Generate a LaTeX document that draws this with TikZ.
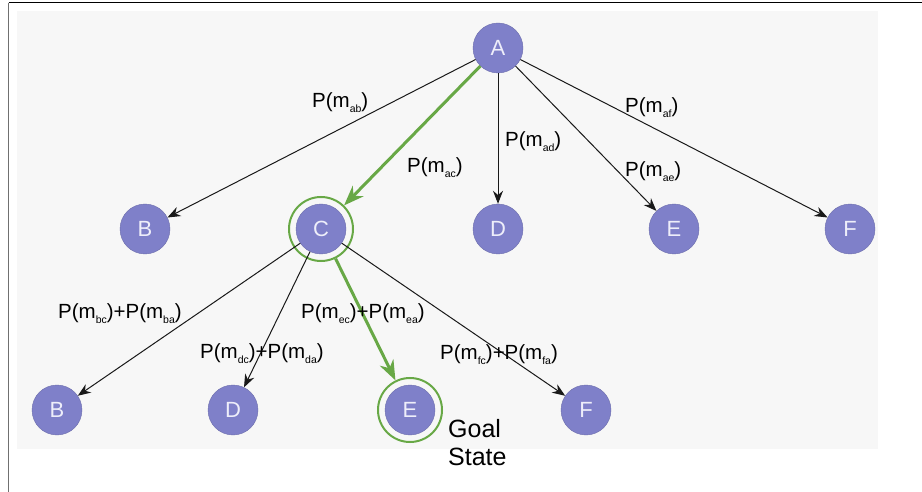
\documentclass[tikz,border=0pt]{standalone}
\usepackage{fontspec}
\setmainfont{Liberation Sans}
\usetikzlibrary{arrows.meta}
\definecolor{nodefill}{HTML}{7F80C9}
\definecolor{nodetext}{HTML}{EEEEFA}
\definecolor{goalgreen}{HTML}{68A846}
\definecolor{bggray}{HTML}{F7F7F7}
\definecolor{framegray}{HTML}{707070}
\newcommand{\sbs}[1]{\raisebox{-5pt}{\fontsize{10.5}{12}\selectfont #1}}
\newcommand{\pmsg}[1]{P(m\sbs{#1})}
\begin{document}
\begin{tikzpicture}[x=1pt,y=-1pt,
  stnode/.style={circle, fill=nodefill, draw=nodefill!85!black, line width=0.4pt,
    minimum size=50pt, inner sep=0pt, text=nodetext, font=\fontsize{22}{26}\selectfont},
  ring/.style={circle, draw=goalgreen, line width=2pt, minimum size=64pt, inner sep=0pt},
  plainedge/.style={draw=black!90, line width=1pt, -{Stealth[length=13pt,width=10pt]}},
  bestedge/.style={draw=goalgreen, line width=3pt, -{Stealth[length=20pt,width=15pt]}},
  lbl/.style={anchor=base west, inner sep=0pt, font=\fontsize{20.5}{24}\selectfont}]
\useasboundingbox (0,0) rectangle (922,492);
% frame and background
\fill[bggray] (17,11) rectangle (878,449);
\draw[black, line width=1pt] (8.5,3) -- (922,3);
\draw[framegray, line width=1.5pt] (8.5,3) -- (8.5,492);
% nodes
\node[stnode] (A) at (498,48) {A};
\node[stnode] (B1) at (145,229) {B};
\node[stnode] (C) at (321,229) {C};
\node[stnode] (D1) at (498,229) {D};
\node[stnode] (E1) at (674,229) {E};
\node[stnode] (F1) at (850,229) {F};
\node[stnode] (B2) at (57,410) {B};
\node[stnode] (D2) at (233,410) {D};
\node[stnode] (E2) at (410,410) {E};
\node[stnode] (F2) at (586,410) {F};
\node[ring] (Cr) at (C) {};
\node[ring] (E2r) at (E2) {};
% edges from A
\draw[plainedge] (A) -- (B1);
\draw[bestedge] (A) -- (Cr);
\draw[plainedge] (A) -- (D1);
\draw[plainedge] (A) -- (E1);
\draw[plainedge] (A) -- (F1);
% edges from C
\draw[plainedge] (C) -- (B2);
\draw[plainedge] (C) -- (D2);
\draw[bestedge] (Cr) -- (E2r);
\draw[plainedge] (C) -- (F2);
% labels
\node[lbl] (lab) at (312,108) {\pmsg{ab}};
\node[lbl] (lac) at (407,173) {\pmsg{ac}};
\node[lbl] (lad) at (505,147) {\pmsg{ad}};
\node[lbl] (lae) at (625,177) {\pmsg{ae}};
\node[lbl] (laf) at (625,113) {\pmsg{af}};
\node[lbl] (lbc) at (58,318) {\pmsg{bc}+\pmsg{ba}};
\node[lbl] (ldc) at (200,358) {\pmsg{dc}+\pmsg{da}};
\node[lbl] (lec) at (301,318) {\pmsg{ec}+\pmsg{ea}};
\node[lbl] (lfc) at (440,359) {\pmsg{fc}+\pmsg{fa}};
\node[anchor=north west, inner sep=0pt, align=left, font=\fontsize{25}{28}\selectfont] (goal) at (448,419) {Goal\\State};
\end{tikzpicture}
\end{document}
